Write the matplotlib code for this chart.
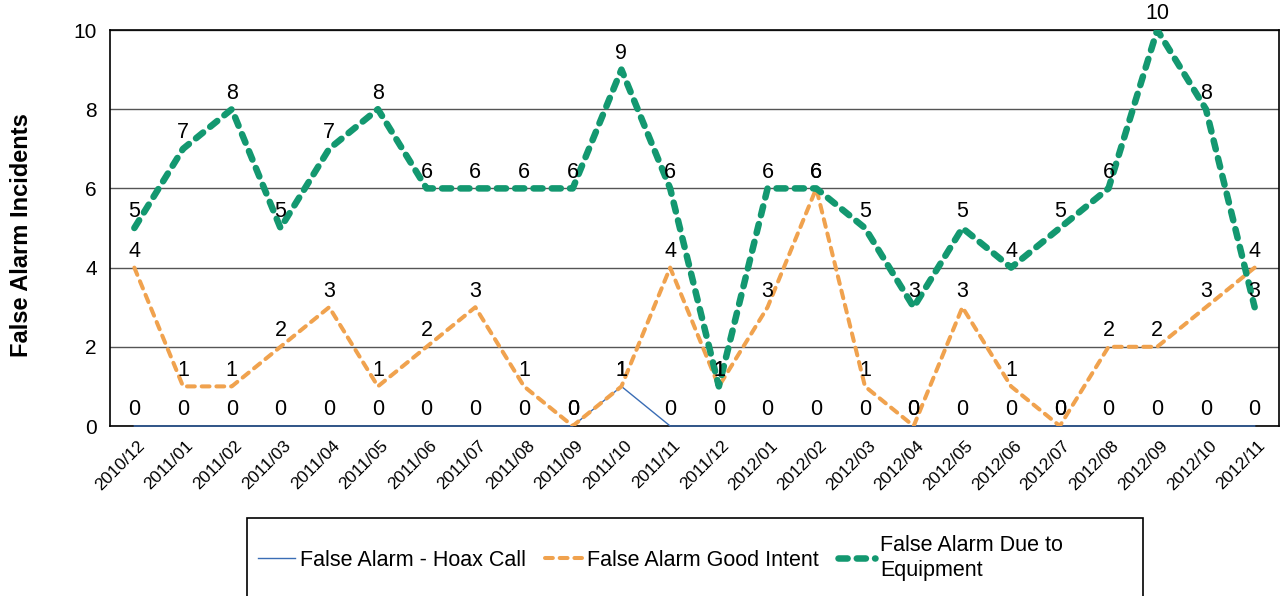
import matplotlib
matplotlib.use("Agg")
import matplotlib.pyplot as plt
from matplotlib.patches import Rectangle
from matplotlib.transforms import ScaledTranslation

months = ["2010/12", "2011/01", "2011/02", "2011/03", "2011/04", "2011/05", "2011/06",
          "2011/07", "2011/08", "2011/09", "2011/10", "2011/11", "2011/12", "2012/01",
          "2012/02", "2012/03", "2012/04", "2012/05", "2012/06", "2012/07", "2012/08",
          "2012/09", "2012/10", "2012/11"]
hoax = [0, 0, 0, 0, 0, 0, 0, 0, 0, 0, 1, 0, 0, 0, 0, 0, 0, 0, 0, 0, 0, 0, 0, 0]
good_intent = [4, 1, 1, 2, 3, 1, 2, 3, 1, 0, 1, 4, 1, 3, 6, 1, 0, 3, 1, 0, 2, 2, 3, 4]
equipment = [5, 7, 8, 5, 7, 8, 6, 6, 6, 6, 9, 6, 1, 6, 6, 5, 3, 5, 4, 5, 6, 10, 8, 3]

series_names = ["False Alarm - Hoax Call", "False Alarm Good Intent",
                "False Alarm Due to\nEquipment"]

plt.rcParams['font.family'] = ['Liberation Sans', 'DejaVu Sans']

W, H = 1286, 596
fig = plt.figure(figsize=(W / 100, H / 100), dpi=100)
ax = fig.add_axes([110 / W, 1 - 426 / H, 1169 / W, 396 / H])

x = list(range(len(months)))
l1, = ax.plot(x, hoax, color="#3A6DB5", lw=1.0, zorder=3, clip_on=False)
l2, = ax.plot(x, good_intent, color="#F0A24E", lw=2.9, dashes=(1.95, 1.7),
              dash_capstyle="round", zorder=4)
l3, = ax.plot(x, equipment, color="#139870", lw=4.7, dashes=(1.4, 1.4),
              dash_capstyle="round", zorder=5)

for series in (hoax, good_intent, equipment):
    for xi, v in zip(x, series):
        ax.annotate(str(v), (xi, v), xytext=(0, 4), textcoords="offset points",
                    ha="center", va="bottom", fontsize=15.5, color="black", zorder=6)

ax.set_xlim(-0.5, len(months) - 0.5)
ax.set_ylim(0, 10)
ax.set_yticks([0, 2, 4, 6, 8, 10])
ax.set_xticks(x)
ax.set_xticklabels([])
label_tf = ax.get_xaxis_transform() + ScaledTranslation(8 / 100, -17 / 100, fig.dpi_scale_trans)
for xi, m in zip(x, months):
    ax.text(xi, 0, m, transform=label_tf, rotation=45, ha="right", va="center",
            rotation_mode="anchor", fontsize=12.5, clip_on=False)
ax.tick_params(axis="y", labelsize=15, length=0, pad=9.5)
ax.tick_params(axis="x", length=0)
ax.grid(axis="y", color="#555555", lw=1.0)
ax.set_axisbelow(True)
for s in ax.spines.values():
    s.set_color("black")
    s.set_linewidth(1.2)
ax.set_ylabel("False Alarm Incidents", fontsize=17, fontweight="bold")
ax.yaxis.set_label_coords(-(110 - 33) / 1169, (426 - 235) / 396)

# legend box
rect = Rectangle((247 / W, -0.02), (1143 - 247) / W, (1 - 518 / H) + 0.02,
                 transform=fig.transFigure, fill=False, edgecolor="black", lw=1.2,
                 clip_on=False)
fig.add_artist(rect)
fig.legend([l1, l2, l3], series_names, loc="center left", ncol=3,
           bbox_to_anchor=(258 / W, 1 - 558 / H), frameon=False, fontsize=15.5,
           handlelength=1.7, handletextpad=0.25, columnspacing=0.9,
           borderpad=0, borderaxespad=0)

fig.savefig("out.png", dpi=100)
